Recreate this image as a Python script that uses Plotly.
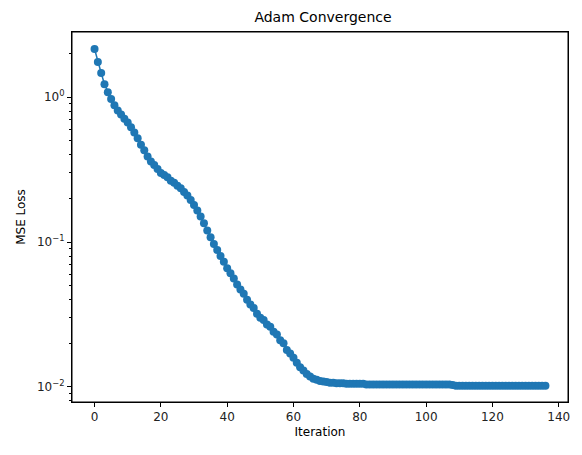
import plotly.graph_objects as go

iteration = list(range(137))
loss = [
    2.15, 1.75, 1.47, 1.23, 1.08, 0.97, 0.88, 0.81, 0.76, 0.71,
    0.67, 0.62, 0.57, 0.52, 0.47, 0.43, 0.39, 0.36, 0.34, 0.32,
    0.30, 0.29, 0.28, 0.265, 0.257, 0.245, 0.235, 0.222, 0.21, 0.195,
    0.18, 0.165, 0.15, 0.135, 0.12, 0.108, 0.097, 0.088, 0.08, 0.073,
    0.066, 0.061, 0.056, 0.051, 0.047, 0.044, 0.04, 0.037, 0.035, 0.032,
    0.030, 0.029, 0.027, 0.026, 0.024, 0.023, 0.021, 0.020, 0.018, 0.017,
    0.0159, 0.0147, 0.0137, 0.013, 0.0123, 0.0118, 0.0114, 0.0112, 0.011, 0.0109,
    0.0108, 0.0107, 0.0107, 0.0106, 0.0106, 0.0106, 0.0105, 0.0105, 0.0105, 0.0105,
    0.0105, 0.0105, 0.0104, 0.0104, 0.0104, 0.0104, 0.0104, 0.0104, 0.0104, 0.0104,
    0.0104, 0.0104, 0.0104, 0.0104, 0.0104, 0.0104, 0.0104, 0.0104, 0.0104, 0.0104,
    0.0104, 0.0104, 0.0104, 0.0104, 0.0104, 0.0104, 0.0104, 0.0104, 0.0103, 0.0102,
    0.0102, 0.0102, 0.0102, 0.0102, 0.0102, 0.0102, 0.0102, 0.0102, 0.0102, 0.0102,
    0.0102, 0.0102, 0.0102, 0.0102, 0.0102, 0.0102, 0.0102, 0.0102, 0.0102, 0.0102,
    0.0102, 0.0102, 0.0102, 0.0102, 0.0102, 0.0102, 0.0102,
]
ytick_vals = [1, 0.1, 0.01]
ytick_text = ["10<sup>0</sup>", "10<sup>−1</sup>", "10<sup>−2</sup>"]
minor_vals = [m * d for d in (0.001, 0.01, 0.1, 1) for m in range(2, 10)]

fig = go.Figure()
fig.add_trace(go.Scatter(
    x=iteration, y=loss, mode='lines+markers',
    line=dict(color='#1f77b4', width=1.5),
    marker=dict(color='#1f77b4', size=8),
    showlegend=False
))

axis_style = dict(showline=True, linecolor='black', linewidth=1, mirror=True,
                  ticks='outside', ticklen=4, tickcolor='black', showgrid=False,
                  zeroline=False, automargin=False,
                  tickfont=dict(size=12, color='#222'))

fig.update_layout(
    width=582, height=455,
    margin=dict(l=72, r=14, t=32, b=53),
    paper_bgcolor='white', plot_bgcolor='white',
    font=dict(family='DejaVu Sans', color='black'),
    title=dict(text='Adam Convergence', x=0.555, xanchor='center',
               yref='container', y=1 - 17 / 455, yanchor='middle',
               font=dict(size=14)),
    xaxis=dict(title=dict(text='Iteration', font=dict(size=12), standoff=4),
               range=[-6.8, 142.8], tickvals=[0, 20, 40, 60, 80, 100, 120, 140],
               **axis_style),
    yaxis=dict(title=dict(text='MSE Loss', font=dict(size=12), standoff=8),
               type='log', range=[-2.104, 0.45],
               tickvals=ytick_vals, ticktext=ytick_text,
               minor=dict(ticks='outside', ticklen=2, tickcolor='black',
                          tickvals=minor_vals, showgrid=False),
               **axis_style),
)
fig.add_shape(type='rect', xref='paper', yref='paper', x0=0, y0=0, x1=1, y1=1,
              line=dict(color='black', width=1), layer='above')
fig.write_html("out.html", post_script="document.body.style.margin='0';",
               config={'displayModeBar': False})
